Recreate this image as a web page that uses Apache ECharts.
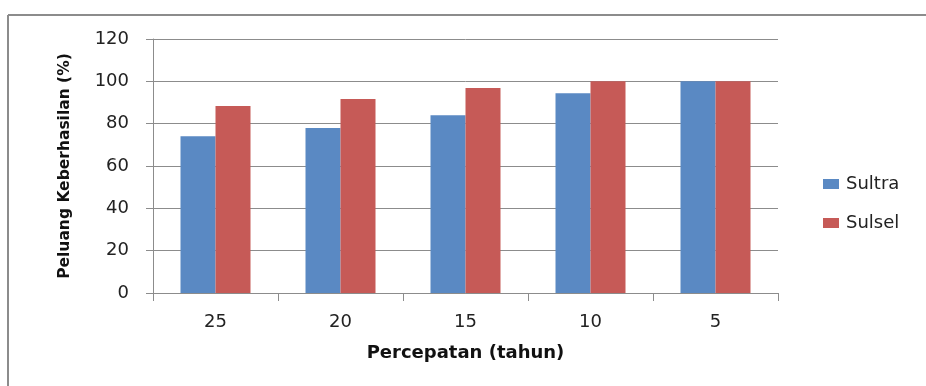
<!DOCTYPE html>
<html>
<head>
<meta charset="utf-8">
<script src="https://cdn.jsdelivr.net/npm/echarts@6/dist/echarts.min.js"></script>
<style>
html,body{margin:0;padding:0;background:#fff;overflow:hidden;}
#chart{width:926px;height:386px;}
</style>
</head>
<body>
<div id="chart"></div>
<script>
var categories = ['25', '20', '15', '10', '5'];
var sultra = [74, 78, 84, 94.4, 100];
var sulsel = [88.4, 91.6, 96.8, 100, 100];
var seriesNames = ['Sultra', 'Sulsel'];
var yTicks = [0, 20, 40, 60, 80, 100, 120];

var font = '"DejaVu Sans", "Open Sans", sans-serif';
var chart = echarts.init(document.getElementById('chart'), null, {renderer: 'canvas'});
chart.setOption({
  animation: false,
  backgroundColor: '#fff',
  graphic: [{
    type: 'line',
    shape: {x1: 8, y1: 15, x2: 926, y2: 15},
    style: {stroke: '#8c8c8c', lineWidth: 2},
    silent: true
  }, {
    type: 'line',
    shape: {x1: 8, y1: 15, x2: 8, y2: 386},
    style: {stroke: '#8c8c8c', lineWidth: 2},
    silent: true
  }],
  grid: {left: 153, right: 148, top: 39, bottom: 93, containLabel: false},
  legend: {
    orient: 'vertical',
    left: 823, top: 175,
    padding: 0,
    itemWidth: 16, itemHeight: 10, itemGap: 21,
    icon: 'rect',
    textStyle: {fontFamily: font, fontSize: 18, color: '#222', padding: [0,0,0,2]},
    data: seriesNames
  },
  xAxis: {
    type: 'category',
    data: categories,
    name: 'Percepatan (tahun)',
    nameLocation: 'middle',
    nameGap: 51,
    nameTextStyle: {fontFamily: font, fontSize: 18, fontWeight: 'bold', color: '#111'},
    axisLine: {lineStyle: {color: '#8c8c8c', width: 1}},
    axisTick: {show: true, length: 8, lineStyle: {color: '#8c8c8c'}},
    axisLabel: {fontFamily: font, fontSize: 18, color: '#222', margin: 20},
    splitLine: {show: false}
  },
  yAxis: {
    type: 'value',
    min: 0, max: 120, interval: 20,
    name: 'Peluang Keberhasilan (%)',
    nameLocation: 'middle',
    nameGap: 80,
    nameRotate: 90,
    nameTextStyle: {fontFamily: font, fontSize: 15.5, fontWeight: 'bold', color: '#111'},
    axisLine: {show: true, lineStyle: {color: '#8c8c8c', width: 1}},
    axisTick: {show: true, length: 7, lineStyle: {color: '#8c8c8c'}},
    axisLabel: {fontFamily: font, fontSize: 18, color: '#222', margin: 24,
      formatter: function(v){ return yTicks.indexOf(v) >= 0 ? String(v) : ''; }},
    splitLine: {show: true, lineStyle: {color: '#8c8c8c', width: 1}}
  },
  series: [{
    name: seriesNames[0], type: 'bar', data: sultra,
    barGap: '0%', barCategoryGap: '44%',
    itemStyle: {color: '#5a89c3'}
  }, {
    name: seriesNames[1], type: 'bar', data: sulsel,
    barGap: '0%', barCategoryGap: '44%',
    itemStyle: {color: '#c65a57'}
  }]
});
</script>
</body>
</html>
